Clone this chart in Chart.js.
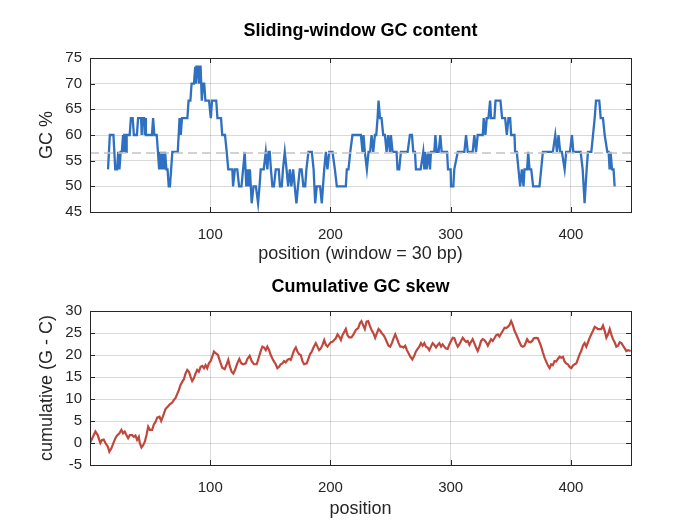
<!DOCTYPE html>
<html>
<head>
<meta charset="utf-8">
<script src="https://cdn.jsdelivr.net/npm/chart.js@4.4.1/dist/chart.umd.min.js"></script>
<style>
  html, body { margin: 0; padding: 0; background: #fff; }
  #wrap { position: relative; width: 697px; height: 523px; }
  canvas { position: absolute; left: 0; }
</style>
</head>
<body>
<div id="wrap">
  <canvas id="gcChart" width="697" height="265" style="top:0"></canvas>
  <canvas id="skewChart" width="697" height="258" style="top:265px"></canvas>
</div>
<script>
// axis ranges / ticks
const posRange = [0, 450];
const posTicks = [100, 200, 300, 400];
const gcTicks = [45, 50, 55, 60, 65, 70, 75];
const skewTicks = [-5, 0, 5, 10, 15, 20, 25, 30];

// sliding-window GC % (window centre positions)
const gcPos = [15,16.5,19.5,21,22.5,23.5,24.5,25.5,26.5,27.5,28,28.5,29.5,30,30.5,33,34,35.5,36.5,39,
  40,42.5,43,43.5,45,45.5,46,46.5,51.5,52.5,53.5,55.5,56.5,57.5,58.5,59.5,60.5,61.5,62.5,63.5,
  64.5,65.5,66.5,68.5,73,74.5,75.5,76.5,81,82,83.5,84.5,86.5,87.5,88,88.5,89.5,90.5,91,92,
  93,94,95,96,99,100.5,101.5,105,106,109,110,112.3,113.7,115,118.4,119,120.5,122.5,124,126,
  128.7,130,131,132,133,134.5,136,138,139.8,141,142,144.5,146.2,147.5,148.5,149.5,150.5,151.7,153,154.5,
  157,158,159.5,160.5,162,163.5,164.8,166.2,167.5,169,170.3,171.7,173,174.5,176,177.5,179,180,181.7,184.5,
  186,187.3,188.6,191.4,192.8,194.8,196.2,197.5,199,201.7,203.7,205.3,212.8,213.6,215,216.5,218.3,225.3,226.7,227.5,
  228.6,230.3,231.7,233,234.2,235.6,237,238.1,239.2,240,241.2,242.5,243.9,245.3,246.7,248,249.5,250.3,251.7,255,
  255.8,257.2,258.6,264.2,266.1,267.8,268.9,270.3,271.1,275,277.2,278.1,278.9,280,281.4,282.8,283.6,286.4,287.3,288.4,
  290,291.4,292.5,297,297.8,300,300.3,302.2,303,305.9,311.4,312.8,314.2,318.3,319.7,321.1,322.5,326.7,327.5,328.9,
  330,331.4,332.8,333.6,336.4,337.3,341.4,342.8,345.3,346.7,348.1,349.5,350.3,353.1,353.6,355,356.4,357.8,359.2,360.6,
  361.4,363.6,364.5,365.6,367,368.6,373.9,376.7,385,387,388.4,389.7,391.1,392.5,394.8,396.1,399.2,400.9,402,408.1,
  409.8,411.4,413.1,414.2,417,419.8,420.9,423.6,424.8,426.7,428.1,430.3,431.4,432.2,433,434.2,435.5,436.4];
const gcVal = [53.3,60,60,53.3,53.3,56.7,53.3,56.7,56.7,60,56.7,60,60,56.7,60,60,63.3,63.3,60,60,
  63.3,63.3,60,63.3,63.3,60,63.3,60,60,63.3,60,60,56.7,53.3,56.7,53.3,56.7,53.3,56.7,53.3,
  53.3,50,50,56.7,56.7,63.3,60,63.3,63.3,66.7,66.7,70,70,73.3,70,73.3,73.3,70,73.3,73.3,
  66.7,70,70,66.7,66.7,63.3,66.7,66.7,63.3,63.3,60,60,56.7,53.3,53.3,50,53.3,53.3,50,50,
  56.7,50,53.3,50,53.3,46.7,50,50,46.7,50,53.3,53.3,56.7,53.3,56.7,56.7,53.3,50,50,53.3,
  53.3,50,50,53.3,56.7,53.3,50,53.3,50,53.3,50,46.7,50,53.3,53.3,50,50,53.3,56.7,56.7,
  53.3,46.7,50,50,46.7,53.3,56.7,53.3,56.7,56.7,53.3,50,50,53.3,53.3,56.7,60,60,56.7,60,
  56.7,53.3,56.7,56.7,60,56.7,60,60,63.3,66.7,63.3,63.3,60,60,56.7,60,56.7,60,56.7,56.7,
  53.3,53.3,56.7,56.7,60,60,56.7,56.7,53.3,53.3,56.7,53.3,56.7,53.3,56.7,53.3,56.7,56.7,60,56.7,
  56.7,60,56.7,56.7,53.3,53.3,50,50,53.3,56.7,56.7,60,56.7,56.7,60,56.7,60,60,63.3,60,
  63.3,63.3,66.7,63.3,63.3,66.7,66.7,63.3,63.3,60,63.3,63.3,60,60,56.7,56.7,53.3,50,53.3,50,
  53.3,53.3,56.7,53.3,53.3,50,50,56.7,56.7,60,56.7,60,56.7,56.7,53.3,56.7,56.7,60,56.7,56.7,
  53.3,46.7,53.3,56.7,56.7,63.3,66.7,66.7,63.3,63.3,60,56.7,56.7,53.3,56.7,53.3,53.3,50];
const gcMean = 56.5;

// cumulative GC skew
const skewPos = [0,4.5,6.4,8.6,10,11.4,12.8,14.8,16.1,17.8,19.2,21.1,22.5,24.5,26.1,27.5,28.9,30.3,31.7,33.1,
  35,36.4,37.8,39.2,40.6,41.4,42.8,44.2,45.6,47,48.4,49.8,51.7,53.1,54.5,55.9,57.8,59.2,60.6,62.8,
  64.8,66.4,68.4,69.8,71.1,72.5,73.9,75.3,76.7,78.1,79.5,80.9,82.3,83.6,85,86.4,87.8,89.2,90.6,92,
  93.4,94.8,96.1,97.5,98.9,100.3,101.7,103.1,104.5,106.4,108.1,110,112,113.7,115,116.4,117.8,119.2,120.6,122.5,
  124.2,125.9,127.5,129.5,130.9,132.8,134.5,136.4,138.7,140.6,142,143.4,144.8,146.2,147.5,149,150.3,151.7,153.1,154.5,
  155.9,157.3,158.6,160,161.4,162.8,164.2,165.6,167,168.4,169.8,171.2,172.5,173.9,175.3,176.7,178.1,180.3,181.7,183.1,
  184.5,185.9,187.8,189.2,190.6,192,193.4,194.8,196.2,197.5,198.9,200.3,201.7,203.1,204.5,205.9,207.3,208.7,210,211.4,
  212.8,214.2,215.6,217.5,219.2,221.1,223.1,224.5,225.8,227.2,228.6,230,231.4,232.8,234.2,235.8,237.2,238.6,240,241.4,
  242.8,244.2,245.6,247,248.3,249.7,251.1,252.5,253.9,255.3,256.7,258.1,259.5,260.8,262.2,263.6,265,266.4,268.1,269.7,
  271.1,272.5,273.9,275.3,276.7,278.1,279.4,280.8,282.2,283.6,285,286.4,287.8,289.2,290.6,292,293.3,294.7,296.1,297.5,
  298.9,300.3,301.7,303.1,304.5,305.9,307.2,308.6,310,311.4,312.8,314.2,315.6,317,318.3,319.7,321.1,322.5,323.9,325.3,
  326.7,328.1,329.5,330.9,332.3,333.6,335,336.4,337.8,339.2,340.6,342,343.4,344.8,346.1,347.5,348.9,350.3,351.7,353.1,
  354.5,355.9,357.3,358.6,360,361.4,362.8,363.6,365,366.4,367.8,369.2,371.1,372.5,373.9,375.3,376.7,378.1,379.5,380.9,
  382.3,383.6,385,386.4,387.8,389.2,390.6,392,393.4,394.8,396.1,397.5,398.9,400.3,401.7,403.1,404.5,405.9,407.3,408.6,
  410,411.4,412.8,414.2,415.6,417,418.4,419.8,421.1,422.5,423.9,425.3,426.7,428.1,429.5,430.9,432.3,433.6,435,436.4,
  437.8,439.2,440.6,442,443.4,444.8,446.1,447.5,449.8];
const skewVal = [0,2.6,1.8,0,0.7,0.8,0,-0.8,-2,-1.2,-0.2,1.1,1.7,2.2,3,2.2,2.6,1.8,1.1,1.8,
  1.8,1.4,1.7,0.7,1.4,0,-1,-0.5,0.3,1.8,3.7,3,3,4.2,4.8,5.8,6,5,6,7.7,
  8.3,8.8,9.2,9.8,10.2,11.1,12,13.2,13.9,14.5,15.8,16.6,16.2,15.1,14.1,14.7,15.8,16.6,16.2,17.3,
  17.5,17,17.7,17,18.1,18.6,19.6,20.8,20.4,20,18.6,17.1,16.8,17.9,18.9,17.3,16.2,15.8,16.6,18.1,
  19.1,18.1,17.9,18.1,19.1,19.8,18.6,17.9,17.9,19.6,20.9,21.9,21.7,21.1,21.9,21.1,20,19.2,18.5,17.9,
  17,17.3,17.9,18.1,18.6,18.3,18.9,19.1,18.9,20,21.1,21.7,20.8,20.2,20,18.6,17.9,18.1,19.2,20.2,
  20.8,21.7,22.7,21.9,21.1,21.5,22.3,23.4,22.3,21.9,22.4,22.9,23,23.4,23.8,24.7,24.2,23.4,24.5,25.2,
  25.9,24.5,24,24,24.7,25.7,26.1,27.2,27.7,26.8,25.9,27.6,27.7,26.6,25.7,24.9,23.9,24.9,25.9,25.5,
  24.9,24.5,23.8,22.9,22.1,21.9,22.7,23.8,24.7,23.8,22.7,21.9,21.9,21.7,22.1,21.1,20.4,19.6,19,19.8,
  20.8,21.4,21.9,22.7,22.1,22.7,21.9,21.7,21.1,21.9,22.7,22.3,21.7,22.3,22.7,21.9,22.4,21.9,21.5,21.4,
  22.4,23.2,23.9,23.8,22.7,21.9,22.4,23.2,23.9,23.4,23,23.2,22.3,23,23.6,22.7,21.7,20.9,21.9,23.2,
  23.6,23.4,22.9,22.1,22.9,23.6,23.2,23.8,24.5,24.7,24.2,24.9,25.5,26.2,26.1,26.4,26.8,27.7,26.8,25.5,
  24.7,23.8,22.9,22.1,21.9,22.1,23,23.6,23,22.9,23.2,23.8,23.9,23.8,22.9,21.9,20.6,19.4,18.5,17.6,
  17,17.9,17.7,18.6,18.5,19.1,19.6,19.4,19.6,18.5,18.1,17.9,17.3,17,17.6,17.9,18.1,19.1,20.2,20.9,
  22.1,22.7,21.9,22.9,23.9,24.7,25.5,26.4,26.2,25.9,25.9,25.9,26.7,25.5,23.9,24.7,25.9,24.7,23.6,22.9,
  21.9,22.1,22.9,22.7,22.1,21.5,20.9,21.1,20.9];

const FONT = "'Liberation Sans', Arial, Helvetica, sans-serif";
const TEXT = '#262626';

function toPoints(xs, ys) {
  return xs.map((x, i) => ({ x: x, y: ys[i] }));
}

// Octave-style box with inward ticks on all four sides, title centred over the axes
const boxPlugin = {
  id: 'box',
  afterDraw(chart, args, opts) {
    const { ctx, chartArea: a, scales } = chart;
    ctx.save();
    ctx.strokeStyle = TEXT;
    ctx.lineWidth = 1;
    ctx.beginPath();
    const len = 5;
    scales.x.ticks.forEach((t) => {
      const px = Math.round(scales.x.getPixelForValue(t.value)) + 0.5;
      ctx.moveTo(px, a.bottom); ctx.lineTo(px, a.bottom - len);
      ctx.moveTo(px, a.top); ctx.lineTo(px, a.top + len);
    });
    scales.y.ticks.forEach((t) => {
      const py = Math.round(scales.y.getPixelForValue(t.value)) + 0.5;
      ctx.moveTo(a.left, py); ctx.lineTo(a.left + len, py);
      ctx.moveTo(a.right, py); ctx.lineTo(a.right - len, py);
    });
    ctx.stroke();
    ctx.strokeRect(Math.round(a.left) + 0.5, Math.round(a.top) + 0.5,
      Math.round(a.right - a.left), Math.round(a.bottom - a.top));

    ctx.fillStyle = '#000';
    ctx.font = 'bold 18px ' + FONT;
    ctx.textAlign = 'center';
    ctx.textBaseline = 'middle';
    ctx.fillText(opts.text, (a.left + a.right) / 2, opts.y);
    ctx.restore();
  }
};

function makePanel(id, cfg) {
  const grid = { color: 'rgba(0,0,0,0.15)', drawTicks: false };
  return new Chart(document.getElementById(id), {
    type: 'line',
    data: { datasets: cfg.datasets },
    options: {
      responsive: false,
      animation: false,
      layout: { padding: { left: 0, right: 66, top: cfg.top, bottom: 0 } },
      elements: { point: { radius: 0 }, line: { tension: 0 } },
      plugins: {
        legend: { display: false },
        tooltip: { enabled: false },
        title: { display: false },
        box: { text: cfg.title, y: cfg.titleY }
      },
      scales: {
        x: {
          type: 'linear',
          min: posRange[0],
          max: posRange[1],
          grid: grid,
          border: { display: false },
          afterBuildTicks: (s) => { s.ticks = posTicks.map((v) => ({ value: v })); },
          afterFit: (s) => { s.height = cfg.xHeight; },
          ticks: { color: TEXT, padding: 13.6, font: { family: FONT, size: 15 } },
          title: {
            display: true,
            text: cfg.xLabel,
            color: TEXT,
            font: { family: FONT, size: 18 },
            padding: { top: 0, bottom: cfg.xLabelPad }
          }
        },
        y: {
          min: cfg.yTicks[0],
          max: cfg.yTicks[cfg.yTicks.length - 1],
          grid: grid,
          border: { display: false },
          afterBuildTicks: (s) => { s.ticks = cfg.yTicks.map((v) => ({ value: v })); },
          afterFit: (s) => { s.width = 90; },
          ticks: { color: TEXT, padding: 8, font: { family: FONT, size: 15 } },
          title: {
            display: true,
            text: cfg.yLabel,
            color: TEXT,
            font: { family: FONT, size: 18 },
            padding: { top: 36.7, bottom: 0 }
          }
        }
      }
    },
    plugins: [boxPlugin]
  });
}

makePanel('gcChart', {
  title: 'Sliding-window GC content',
  titleY: 31,
  top: 58,
  xLabel: 'position (window = 30 bp)',
  xLabelPad: 0.2,
  xHeight: 53,
  yLabel: 'GC %',
  yTicks: gcTicks,
  datasets: [
    {
      data: posRange.map((x) => ({ x: x, y: gcMean })),
      borderColor: '#c4c4c4',
      borderWidth: 1.5,
      borderDash: [9, 5]
    },
    {
      data: toPoints(gcPos, gcVal),
      borderColor: '#3070c0',
      borderWidth: 2.3
    }
  ]
});

makePanel('skewChart', {
  title: 'Cumulative GC skew',
  titleY: 22,
  top: 46,
  xLabel: 'position',
  xLabelPad: 3.2,
  xHeight: 58,
  yLabel: 'cumulative (G - C)',
  yTicks: skewTicks,
  datasets: [
    {
      data: toPoints(skewPos, skewVal),
      borderColor: '#c0473b',
      borderWidth: 2.2
    }
  ]
});
</script>
</body>
</html>
